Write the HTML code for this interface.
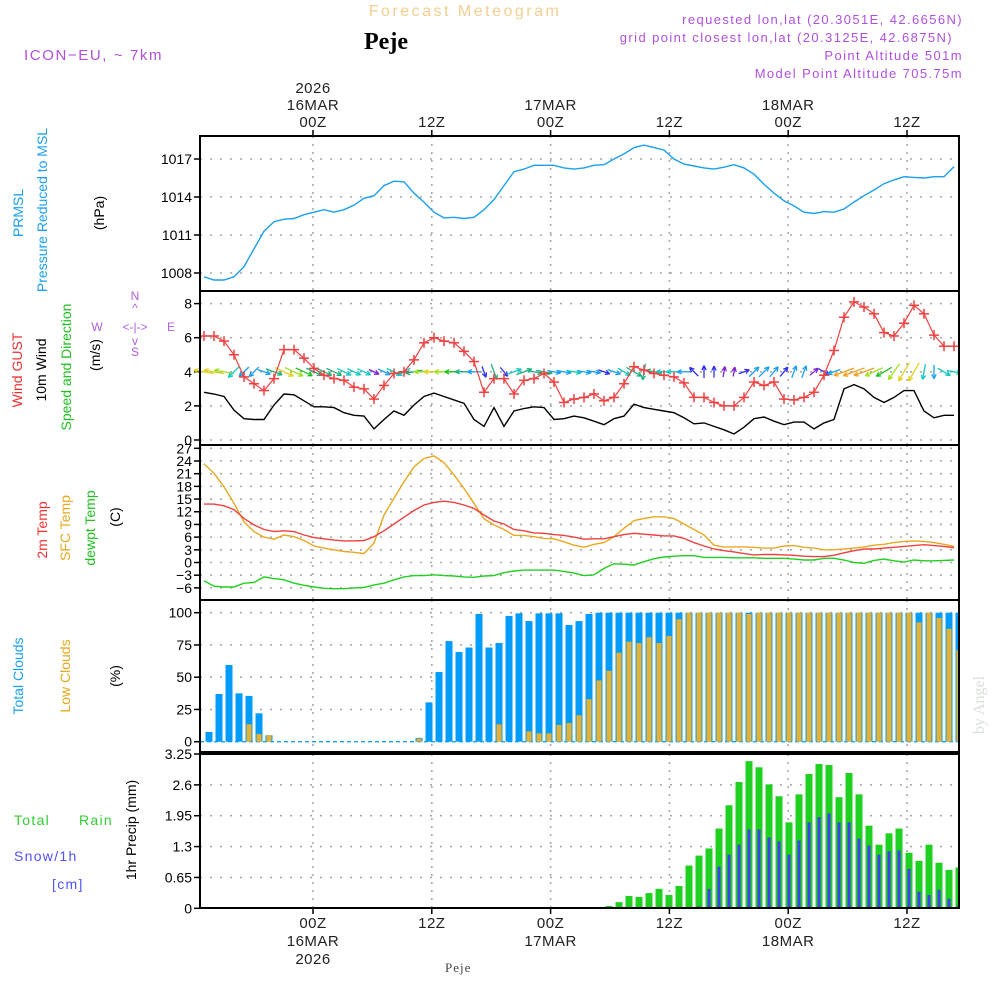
<!DOCTYPE html>
<html><head><meta charset="utf-8">
<style>
html,body{margin:0;padding:0;background:#fff;}
svg{display:block;font-family:"Liberation Sans",sans-serif;}
</style></head>
<body>
<svg id="chart" width="1000" height="1000" viewBox="0 0 1000 1000">
<g id="hdr">
<text x="465" y="16" text-anchor="middle" font-size="16" fill="#f2cf90" letter-spacing="2.5">Forecast Meteogram</text>
<text x="386" y="49" text-anchor="middle" font-size="24" font-weight="bold" font-family="Liberation Serif,serif" fill="#000">Peje</text>
<text x="24" y="60" font-size="15" fill="#b050e0" letter-spacing="1.6">ICON−EU, ~ 7km</text>
<g font-size="13" fill="#b050e0" letter-spacing="1.4" text-anchor="end">
<text x="963" y="24">requested lon,lat (20.3051E, 42.6656N)</text>
<text x="953" y="42">grid point closest lon,lat (20.3125E, 42.6875N)</text>
<text x="963" y="60">Point Altitude 501m</text>
<text x="963" y="78">Model Point Altitude 705.75m</text>
</g>
<text x="445" y="972" font-size="13" font-family="Liberation Serif,serif" fill="#444" letter-spacing="1">Peje</text>
<text transform="translate(984,705) rotate(-90)" text-anchor="middle" font-size="16" font-family="Liberation Serif,serif" fill="#d8ded8">by Angel</text>
</g>
<g id="labels" font-size="14">
<text transform="translate(23,213) rotate(-90)" text-anchor="middle" fill="#1aa0f0">PRMSL</text>
<text transform="translate(47,210) rotate(-90)" text-anchor="middle" fill="#1aa0f0">Pressure Reduced to MSL</text>
<text transform="translate(104,213) rotate(-90)" text-anchor="middle" fill="#000">(hPa)</text>
<text transform="translate(22,370) rotate(-90)" text-anchor="middle" fill="#f03030">Wind GUST</text>
<text transform="translate(46,370) rotate(-90)" text-anchor="middle" fill="#000">10m Wind</text>
<text transform="translate(71,367) rotate(-90)" text-anchor="middle" fill="#20c020">Speed and Direction</text>
<text transform="translate(100,355) rotate(-90)" text-anchor="middle" fill="#000">(m/s)</text>
<g fill="#b060e0" font-size="12">
<text x="135" y="300" text-anchor="middle">N</text>
<text x="135" y="312" text-anchor="middle">^</text>
<text x="97" y="331" text-anchor="middle">W</text>
<text x="135" y="331" text-anchor="middle">&lt;-|-&gt;</text>
<text x="171" y="331" text-anchor="middle">E</text>
<text x="135" y="345" text-anchor="middle">v</text>
<text x="135" y="356" text-anchor="middle">S</text>
</g>
<text transform="translate(47,530) rotate(-90)" text-anchor="middle" fill="#f03030">2m Temp</text>
<text transform="translate(70,528) rotate(-90)" text-anchor="middle" fill="#e8a820">SFC Temp</text>
<text transform="translate(95,528) rotate(-90)" text-anchor="middle" fill="#20c020">dewpt Temp</text>
<text transform="translate(120,517) rotate(-90)" text-anchor="middle" fill="#000">(C)</text>
<text transform="translate(23,676) rotate(-90)" text-anchor="middle" fill="#1aa0f0">Total Clouds</text>
<text transform="translate(70,676) rotate(-90)" text-anchor="middle" fill="#e8a820">Low Clouds</text>
<text transform="translate(120,676) rotate(-90)" text-anchor="middle" fill="#000">(%)</text>
<text transform="translate(136,830) rotate(-90)" text-anchor="middle" fill="#000">1hr Precip (mm)</text>
<g font-size="14" letter-spacing="1.3">
<text x="14" y="825" fill="#30d030">Total</text>
<text x="79" y="825" fill="#30d030">Rain</text>
<text x="14" y="861" fill="#5050ff">Snow/1h</text>
<text x="52" y="889" fill="#5050ff">[cm]</text>
</g>
</g>
<g id="plot"></g>
</svg>
<script>
const NS="http://www.w3.org/2000/svg";
const plot=document.getElementById('plot');
const pressure=[1007.7,1007.45,1007.45,1007.7,1008.5,1009.9,1011.3,1012.05,1012.25,1012.3,1012.6,1012.8,1013.0,1012.8,1013.0,1013.35,1013.9,1014.1,1014.9,1015.25,1015.2,1014.3,1013.6,1012.8,1012.35,1012.4,1012.3,1012.4,1013.0,1013.8,1014.9,1016.0,1016.2,1016.5,1016.5,1016.5,1016.3,1016.2,1016.3,1016.5,1016.55,1017.0,1017.4,1017.9,1018.1,1017.9,1017.7,1017.0,1016.6,1016.45,1016.3,1016.2,1016.35,1016.55,1016.3,1015.8,1015.0,1014.3,1013.7,1013.3,1012.8,1012.7,1012.85,1012.8,1013.05,1013.6,1014.1,1014.55,1015.05,1015.35,1015.6,1015.55,1015.5,1015.6,1015.6,1016.4];
const gust=[6.1,6.1,5.8,5.0,3.7,3.3,2.9,3.6,5.3,5.3,4.8,4.2,3.8,3.6,3.5,3.1,3.0,2.4,3.2,3.9,4.0,4.7,5.7,6.0,5.8,5.7,5.2,4.6,2.8,3.6,3.6,2.7,3.5,3.6,3.9,3.4,2.2,2.4,2.5,2.7,2.3,2.5,3.3,4.3,4.1,3.9,3.8,3.7,3.35,2.5,2.5,2.2,2.0,2.0,2.5,3.4,3.2,3.4,2.4,2.35,2.5,2.8,3.8,5.25,7.2,8.1,7.8,7.4,6.3,6.1,6.85,7.9,7.4,6.15,5.5,5.5];
const wind=[2.8,2.7,2.55,1.75,1.25,1.2,1.2,2.05,2.7,2.65,2.3,1.95,1.95,1.9,1.6,1.45,1.4,0.65,1.2,1.7,1.45,2.05,2.55,2.75,2.55,2.35,2.15,1.2,0.8,1.9,0.8,1.7,1.85,1.95,1.9,1.2,1.25,1.4,1.3,1.1,0.9,1.25,1.4,2.1,1.9,1.8,1.7,1.6,1.3,0.95,1.0,0.8,0.6,0.35,0.75,1.25,1.35,1.1,0.9,1.05,1.05,0.65,1.0,1.2,3.0,3.25,3.0,2.5,2.2,2.5,2.9,2.9,1.7,1.3,1.45,1.45];
const windDir=[100,100,100,45,45,45,290,290,295,295,295,295,295,295,295,295,295,295,295,295,60,80,90,90,90,90,90,90,340,340,320,250,250,280,280,280,280,280,280,280,290,290,300,300,10,100,90,90,90,135,180,180,190,190,250,225,225,220,220,200,200,230,300,70,70,70,70,65,60,35,30,30,10,0,300,280];
const temp2m=[13.8,13.8,13.4,12.5,10.4,8.9,7.8,7.3,7.5,7.3,6.5,5.9,5.6,5.3,5.1,5.1,5.2,6.1,7.5,9.1,10.7,12.3,13.6,14.2,14.5,14.2,13.6,12.8,11.2,9.8,9.1,7.8,7.5,7.0,6.9,6.6,6.4,6.0,5.5,5.6,5.6,6.1,6.6,6.9,6.7,6.5,6.3,6.3,5.7,4.7,3.9,3.2,2.8,2.5,2.1,1.8,1.9,1.9,1.8,1.7,1.5,1.4,1.4,1.7,2.3,2.8,3.2,3.2,3.4,3.6,3.8,4.0,4.2,4.0,3.8,3.5];
const tempSfc=[23.3,21.1,17.9,14.0,9.6,7.3,6.0,5.5,6.5,6.1,5.2,3.9,3.4,3.0,2.6,2.4,2.1,4.6,11.2,15.2,19.1,22.6,24.6,25.2,23.6,20.7,17.5,14.0,10.3,8.9,7.8,6.4,6.4,6.1,5.7,5.6,4.9,4.1,3.6,4.3,4.7,6.1,8.1,9.9,10.4,10.8,10.8,10.4,9.1,7.8,6.5,4.1,3.7,3.7,3.7,3.6,3.4,3.4,3.9,4.0,3.6,3.4,3.0,3.0,3.2,3.4,3.7,4.1,4.3,4.7,5.0,5.1,5.0,4.7,4.3,3.8];
const dewpt=[-4.3,-5.6,-5.8,-5.8,-4.9,-4.7,-3.4,-3.8,-4.1,-4.9,-5.4,-5.8,-6.1,-6.2,-6.2,-6.0,-5.9,-5.3,-4.9,-4.1,-3.4,-3.1,-3.1,-2.9,-3.1,-3.2,-3.4,-3.5,-3.2,-3.1,-2.4,-2.0,-1.8,-1.8,-1.8,-1.8,-2.1,-2.5,-3.1,-2.9,-1.4,-0.3,-0.4,-0.6,0.2,0.9,1.3,1.5,1.6,1.6,1.2,1.2,1.2,1.1,1.1,1.1,1.0,1.0,1.0,0.8,0.6,0.6,1.0,1.0,0.6,0.0,-0.2,0.5,0.8,0.4,0.1,0.6,0.4,0.4,0.5,0.6];
const totalClouds=[7.5,37,59.5,37.5,35.5,22,5,0,0,0,0,0,0,0,0,0,0,0,0,0,0,3,30.5,54,78,69.5,73,99,73,76.5,97.5,99.5,93.5,99.5,99.5,99.5,90.5,93.5,99,100,100,100,100,100,100,100,100,100,100,100,100,100,100,100,100,100,100,100,100,100,100,100,100,100,100,100,100,100,100,100,100,100,100,100,100,100];
const lowClouds=[0,0,0,0,13.5,6,5,0,0,0,0,0,0,0,0,0,0,0,0,0,0,2.5,0,0,0,0,0,0,0,13.5,0,0,8,6.5,6.5,13,14.5,20.5,33,47.5,55,69,77.5,76.5,81,76.5,82,95,100,100,100,100,100,100,99,100,100,100,100,100,100,100,100,100,100,100,100,100,100,100,100,92.5,100,96,87.5,71];
const rain=[0,0,0,0,0,0,0,0,0,0,0,0,0,0,0,0,0,0,0,0,0,0,0,0,0,0,0,0,0,0,0,0,0,0,0,0,0,0,0,0,0.05,0.13,0.26,0.24,0.32,0.41,0.28,0.47,0.9,1.11,1.26,1.68,2.17,2.66,3.1,2.97,2.61,2.36,1.81,2.4,2.83,3.04,3.02,2.34,2.85,2.4,1.74,1.34,1.58,1.68,1.17,1.0,1.34,0.96,0.81,0.86];
const snow=[0,0,0,0,0,0,0,0,0,0,0,0,0,0,0,0,0,0,0,0,0,0,0,0,0,0,0,0,0,0,0,0,0,0,0,0,0,0,0,0,0,0,0,0,0,0,0,0,0,0.04,0.41,0.88,1.13,1.34,1.66,1.66,1.49,1.41,1.13,1.43,1.81,1.92,2.0,1.81,1.81,1.47,1.32,1.13,1.2,1.22,0.83,0.35,0.28,0.39,0.2,0.07];
const timeTicks=[0,12,24,36,48,60];
const topLabels=[["2026","16MAR","00Z"],["12Z"],["17MAR","00Z"],["12Z"],["18MAR","00Z"],["12Z"]];
const pTicks=[1008,1011,1014,1017];
const wTicks=[0,2,4,6,8];
const tTicks=[-6,-3,0,3,6,9,12,15,18,21,24,27];
const cTicks=[0,25,50,75,100];
const rTicks=[0,0.65,1.3,1.95,2.6,3.25];
const rTickLabels=["0","0.65","1.3","1.95","2.6","3.25"];

const L=200,R=959;
function xT(h){return 313+h*9.9;}
function xI(i){return 204+i*10;}
function xB(i){return 209+i*10;}
function lin(d0,d1,r0,r1){return v=>r0+(v-d0)*(r1-r0)/(d1-d0);}
const yP=lin(1008,1017,273,159);
const yW=lin(0,8,440,303.6);
const yTm=lin(0,27,562.5,448.3);
const yC=lin(0,100,741.7,612.7);
const yR=lin(0,3.25,908.3,754);
const panels=[[136,291],[291,445],[445,600],[600,752],[754,908]];

function el(tag,attrs,parent){const e=document.createElementNS(NS,tag);for(const k in attrs)e.setAttribute(k,attrs[k]);(parent||plot).appendChild(e);return e;}
function txt(x,y,s,attrs,parent){const t=el('text',Object.assign({x:x,y:y},attrs||{}),parent);t.textContent=s;return t;}

const grid=el('g',{});


function hgrid(y){const g=el('line',{x1:L,x2:R,y1:y,y2:y,stroke:'#aaa','stroke-width':1.6,'stroke-dasharray':'2 8'},grid);}
pTicks.forEach(v=>hgrid(yP(v)));
wTicks.forEach(v=>hgrid(yW(v)));
tTicks.forEach(v=>hgrid(yTm(v)));
cTicks.forEach(v=>{if(v>0)hgrid(yC(v));});
rTicks.forEach(v=>{if(v>0&&v<3.25)hgrid(yR(v));});
panels.forEach(p=>{timeTicks.forEach(h=>{const g=el('line',{x1:xT(h),x2:xT(h),y1:p[0],y2:p[1],stroke:'#aaa','stroke-width':1.6,'stroke-dasharray':'2 6'},grid);});});

function yAxis(ticks,labels,sc,name){const g=el('g',{'font-size':14,'text-anchor':'end',fill:'#000'});ticks.forEach((v,k)=>{const y=sc(v);el('line',{x1:L-6,x2:L,y1:y,y2:y,stroke:'#000','stroke-width':1.5},g);const t=txt(L-8,y+5,labels[k],{},g);});}
yAxis(pTicks,pTicks.map(String),yP,'pressure-y-axis');
yAxis(wTicks,wTicks.map(String),yW,'wind-y-axis');
yAxis(tTicks,tTicks.map(v=>v<0?'−'+(-v):String(v)),yTm,'temp-y-axis');
yAxis(cTicks,cTicks.map(String),yC,'clouds-y-axis');
yAxis(rTicks,rTickLabels,yR,'precip-y-axis');

const xa=el('g',{'font-size':15,'text-anchor':'middle',fill:'#222','letter-spacing':'0.5'});


timeTicks.forEach((h,k)=>{const x=xT(h);const lab=topLabels[k];lab.forEach((s,j)=>{const t=txt(x,127-(lab.length-1-j)*17,s,{},xa);});
 el('line',{x1:x,x2:x,y1:130,y2:136,stroke:'#000','stroke-width':1.5},xa);
 el('line',{x1:x,x2:x,y1:908,y2:914,stroke:'#000','stroke-width':1.5},xa);
 const rev=lab.slice().reverse();rev.forEach((s,j)=>{const t=txt(x,928+j*18,s,{},xa);});});

function polyline(vals,sc,color,name,w){const pts=vals.map((v,i)=>xI(i).toFixed(1)+','+sc(v).toFixed(1)).join(' ');const p=el('polyline',{points:pts,fill:'none',stroke:color,'stroke-width':w||1.4});return p;}
polyline(pressure,yP,'#1aa0f0','pressure-line');

function wcol(s){if(s<0.7)return '#8020d0';if(s<1.05)return '#3030f0';if(s<1.4)return '#1aa0f0';if(s<1.8)return '#10c8c0';if(s<2.2)return '#20b080';if(s<2.5)return '#20c020';if(s<2.7)return '#a0e020';if(s<2.95)return '#e0d020';return '#f0a020';}
const arrows=el('g',{});


windDir.forEach((d,i)=>{const s=wind[i];const a=(d+180)*Math.PI/180;const len=8+s*4.5;const dx=Math.sin(a)*len,dy=-Math.cos(a)*len;const cx=xI(i),cy=yW(4);const x0=cx-dx/2,y0=cy-dy/2,x1=cx+dx/2,y1=cy+dy/2;const c=wcol(s);const g=el('g',{stroke:c,'stroke-width':1.3,fill:'none'},arrows);el('line',{x1:x0,y1:y0,x2:x1,y2:y1},g);const ux=dx/len,uy=dy/len;const hl=5;[0.45,-0.45].forEach(t=>{const ca=Math.cos(t),sa=Math.sin(t);const hx=-(ux*ca-uy*sa)*hl,hy=-(ux*sa+uy*ca)*hl;el('line',{x1:x1,y1:y1,x2:x1+hx,y2:y1+hy},g);});});

polyline(wind,yW,'#000','wind-speed-line',1.4);
polyline(gust,yW,'#f04040','gust-line',1.2);
const gm=el('g',{stroke:'#f04040','stroke-width':1.5});


gust.forEach((v,i)=>{const x=xI(i),y=yW(v);el('line',{x1:x-5,x2:x+5,y1:y,y2:y},gm);el('line',{x1:x,x2:x,y1:y-5,y2:y+5},gm);});

polyline(tempSfc,yTm,'#e8a820','sfc-temp-line',1.4);
polyline(temp2m,yTm,'#f04040','temp-2m-line',1.4);
polyline(dewpt,yTm,'#20d020','dewpt-line',1.4);

const cb=el('g',{});


el('line',{x1:L,x2:R,y1:yC(0),y2:yC(0),stroke:'#1aa0f0','stroke-width':1.3,'stroke-dasharray':'4 3'},cb);
totalClouds.forEach((v,i)=>{if(v<=0)return;const x=xB(i);const r=el('rect',{x:x-3.5,y:yC(v),width:7,height:yC(0)-yC(v),fill:'#009cf8'},cb);});
lowClouds.forEach((v,i)=>{if(v<=0)return;const x=xB(i);const r=el('rect',{x:x-2.5,y:yC(v),width:5,height:yC(0)-yC(v),fill:'#e8b030'},cb);});

const pb=el('g',{});


rain.forEach((v,i)=>{if(v<=0)return;const x=xB(i);const r=el('rect',{x:x-3.5,y:yR(v),width:7,height:yR(0)-yR(v),fill:'#20d020'},pb);});
snow.forEach((v,i)=>{if(v<=0)return;const x=xB(i);const r=el('rect',{x:x-1.5,y:yR(v),width:3,height:yR(0)-yR(v),fill:'#4040f0'},pb);});

el('rect',{x:R+1,y:130,width:12,height:785,fill:'#fff'});
panels.forEach((p,k)=>{const f=el('rect',{x:L,y:p[0],width:R-L,height:p[1]-p[0],fill:'none',stroke:'#000','stroke-width':2});});
</script>
</body></html>
